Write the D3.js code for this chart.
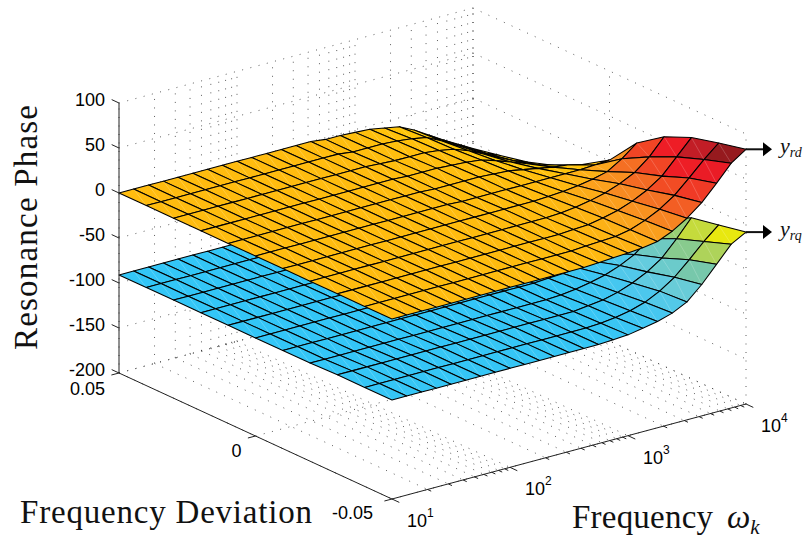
<!DOCTYPE html>
<html>
<head>
<meta charset="utf-8">
<script src="https://cdn.jsdelivr.net/npm/d3@7/dist/d3.min.js"></script>
<style>
  html, body { margin: 0; padding: 0; background: #fff; }
  svg { display: block; }
</style>
</head>
<body>
<svg id="chart" width="805" height="539"></svg>
<script>
// grid of the two surfaces: one row per deviation, one value per frequency
var freqGrid = [10, 13.3, 17.8, 23.7, 31.6, 42.2, 56.2, 75, 100, 133, 178, 237, 316, 422, 562, 750, 1000, 1334, 1778, 2371, 3162, 4217, 5623, 7499, 10000]
var devGrid = [-0.05, -0.04, -0.03, -0.02, -0.01, 0, 0.01, 0.02, 0.03, 0.04, 0.05]

var upperPhase = [
  [0, 0, 0, 0, 0, 0, 0, 0, 0, 0, 0, 0, 0, 0, 1, 2, 3, 4.5, 7, 14, 24, 37, 54, 72, 83],
  [0, 0, 0, 0, 0, 0, 0, 0, 0, 0, 0, 0, 0, 0, 0, 1, 2, 3, 6, 12, 20, 31, 46, 62, 76],
  [0, 0, 0, 0, 0, 0, 0, 0, 0, 0, 0, 0, 0, 0, 0, 0, 1, 2, 5, 9, 15, 23, 34, 51, 68],
  [0, 0, 0, 0, 0, 0, 0, 0, 0, 0, 0, 0, 0, 0, 0, 0, 0, 1, 3, 6, 10, 16, 24, 37, 55],
  [0, 0, 0, 0, 0, 0, 0, 0, 0, 0, 0, 0, 0, 0, 0, 0, 0, 0, 1, 2, 4, 7, 11, 21, 34],
  [0, 0, 0, 0, 0, 0, 0, 0, 0, 0, 0, 0, 0, 0, -1, -1, -1, -1, -1, -1, -1, -1, -1, 0, 1],
  [0, 0, 0, 0, 0, 0, 0, 0, 0, 0, 0, 0, 0, 0, -1, -1, -1, -1, -2, -3, -6, -9, -12, -14, -18],
  [0, 0, 0, 0, 0, 0, 0, 0, 0, 0, 0, 0, 0, 0, -1, -1, -1, -2, -3, -5, -10, -16, -22, -28, -33],
  [0, 0, 0, 0, 0, 0, 0, 0, 0, 0, 0, 0, 0, 0, -1, -2, -2, -2, -4, -7, -13, -21, -29, -37, -43],
  [0, 0, 0, 0, 0, 0, 0, 0, 0, 0, 0, 0, 0, 0, -2, -2, -2, -3, -5, -8, -16, -25, -34, -43, -50],
  [0, 0, 0, 0, 0, 0, 0, 0, 0, 0, 0, 0, 0, 0, -2, -2, -3, -4, -7, -10, -18, -28, -38, -47, -56]
]

var lowerPhase = [
  [-90, -90, -90, -90, -90, -90, -90, -90, -90, -90, -90, -90, -90, -90, -90, -89, -88, -85, -82, -77, -69, -54, -36, -18, -9],
  [-90, -90, -90, -90, -90, -90, -90, -90, -90, -90, -90, -90, -90, -90, -90, -90, -89, -87, -84, -79, -71, -60, -45, -29, -15],
  [-90, -90, -90, -90, -90, -90, -90, -90, -90, -90, -90, -90, -90, -90, -90, -90, -90, -88, -86, -82, -76, -68, -57, -40, -21],
  [-91, -91, -91, -91, -91, -91, -91, -91, -91, -91, -91, -91, -91, -91, -91, -91, -91, -90, -88, -85, -81, -75, -67, -54, -36],
  [-91, -91, -91, -91, -91, -91, -91, -91, -91, -91, -91, -91, -91, -91, -91, -91, -91, -91, -90, -89, -87, -84, -80, -70, -57],
  [-91, -91, -91, -91, -91, -91, -91, -91, -91, -91, -91, -91, -91, -91, -92, -92, -92, -92, -92, -92, -92, -92, -92, -91, -90],
  [-91, -91, -91, -91, -91, -91, -91, -91, -91, -91, -91, -91, -91, -91, -92, -92, -92, -92, -93, -94, -97, -100, -103, -105, -109],
  [-91, -91, -91, -91, -91, -91, -91, -91, -91, -91, -91, -91, -91, -91, -92, -92, -92, -93, -94, -96, -101, -107, -113, -119, -124],
  [-91, -91, -91, -91, -91, -91, -91, -91, -91, -91, -91, -91, -91, -91, -92, -93, -93, -93, -95, -98, -104, -112, -120, -128, -134],
  [-91, -91, -91, -91, -91, -91, -91, -91, -91, -91, -91, -91, -91, -91, -93, -93, -93, -94, -96, -99, -107, -116, -125, -134, -141],
  [-91, -91, -91, -91, -91, -91, -91, -91, -91, -91, -91, -91, -91, -91, -93, -93, -94, -95, -98, -101, -109, -119, -128, -138, -147]
]

var phaseTicks = [100, 50, 0, -50, -100, -150, -200]
var devTicks = [0.05, 0, -0.05]
var freqDecades = [10, 100, 1000, 10000]
var freqExponents = ['1', '2', '3', '4']

var upperStops = [-20, 0, 8, 14, 22, 33, 42, 48, 58, 62, 73]
var upperColors = ['#ffd400', '#ffbc0f', '#fba51c', '#f99220', '#f57323', '#f24d24', '#f03a26', '#ee1e26', '#ee1c26', '#cd1e28', '#961a1e']
var lowerStops = [-91, -78, -66, -56, -48, -40, -30, -18]
var lowerColors = ['#33c6f7', '#4ac7ee', '#66ccdd', '#6ccbc8', '#78c8a8', '#90cc80', '#b5d550', '#e8e80f']

var serif = '"Liberation Serif", serif'
var sans = '"Liberation Sans", Arial, sans-serif'

var svg = d3.select('#chart')

// axes box on screen
var origin = {x: 119, y: 373}   // freq 10, dev 0.05, phase -200
var freqSpan = {x: 354, y: -95}
var devSpan = {x: 273, y: 126}

var freqScale = d3.scaleLog().domain([10, 10000]).range([0, 1])
var devScale = d3.scaleLinear().domain([0.05, -0.05]).range([0, 1])
var phaseScale = d3.scaleLinear().domain([-200, 100]).range([0, 270])

function project (f, d, z) {
  var a = freqScale(f)
  var b = devScale(d)
  return [
    origin.x + a * freqSpan.x + b * devSpan.x,
    origin.y + a * freqSpan.y + b * devSpan.y - phaseScale(z)
  ]
}

var lineGen = d3.line()

function segment (layer, from, to) {
  return layer.append('path').attr('d', lineGen([from, to])).attr('fill', 'none')
}

// dotted grid on the floor and the two back walls
var grid = svg.append('g')
  .attr('stroke', '#333')
  .attr('stroke-width', 0.8)
  .attr('stroke-dasharray', '1 7.5')

freqScale.ticks().forEach(function (f) {
  segment(grid, project(f, 0.05, -200), project(f, -0.05, -200))
  segment(grid, project(f, 0.05, -200), project(f, 0.05, 100))
})
devTicks.forEach(function (d) {
  segment(grid, project(10, d, -200), project(10000, d, -200))
  segment(grid, project(10000, d, -200), project(10000, d, 100))
})
phaseTicks.forEach(function (z) {
  segment(grid, project(10, 0.05, z), project(10000, 0.05, z))
  segment(grid, project(10000, 0.05, z), project(10000, -0.05, z))
})

// painter's order: far cells first, each one a fill, a faint seam and an outline
function drawSurface (rows, color) {
  var layer = svg.append('g')
  for (var j = devGrid.length - 2; j >= 0; j--) {
    for (var i = freqGrid.length - 2; i >= 0; i--) {
      var p00 = project(freqGrid[i], devGrid[j], rows[j][i])
      var p10 = project(freqGrid[i + 1], devGrid[j], rows[j][i + 1])
      var p11 = project(freqGrid[i + 1], devGrid[j + 1], rows[j + 1][i + 1])
      var p01 = project(freqGrid[i], devGrid[j + 1], rows[j + 1][i])
      var fill = color(d3.mean([rows[j][i], rows[j][i + 1], rows[j + 1][i + 1], rows[j + 1][i]]))
      layer.append('path').attr('d', lineGen([p00, p10, p11, p01]) + 'Z').attr('fill', fill)
      layer.append('path')
        .attr('d', lineGen([p00, p11]))
        .attr('stroke', '#fff')
        .attr('stroke-opacity', 0.28)
        .attr('stroke-width', 0.7)
      layer.append('path')
        .attr('d', lineGen([p00, p10, p11, p01]) + 'Z')
        .attr('fill', 'none')
        .attr('stroke', '#000')
        .attr('stroke-width', 1.05)
        .attr('stroke-linejoin', 'round')
    }
  }
}

drawSurface(lowerPhase, d3.scaleLinear().domain(lowerStops).range(lowerColors).clamp(true))
drawSurface(upperPhase, d3.scaleLinear().domain(upperStops).range(upperColors).clamp(true))

// solid axes and ticks
var axes = svg.append('g').attr('stroke', '#222').attr('stroke-width', 1)
var tickLong = {x: 7.3, y: 3.4}
var tickAlong = {x: 7.6, y: -2}

segment(axes, project(10, 0.05, -200), project(10, 0.05, 100))
segment(axes, project(10, 0.05, -200), project(10, -0.05, -200))
segment(axes, project(10, -0.05, -200), project(10000, -0.05, -200))

phaseTicks.forEach(function (z) {
  var p = project(10, 0.05, z)
  segment(axes, [p[0] - tickLong.x, p[1] - tickLong.y], p)
})
devTicks.forEach(function (d) {
  var p = project(10, d, -200)
  segment(axes, [p[0] - tickAlong.x, p[1] - tickAlong.y], p)
})
freqScale.ticks().forEach(function (f) {
  var p = project(f, -0.05, -200)
  var k = freqDecades.indexOf(f) >= 0 ? 1 : 0.5
  segment(axes, p, [p[0] + k * tickLong.x, p[1] + k * tickLong.y])
})

// tick labels
var labels = svg.append('g')
  .attr('font-family', sans)
  .attr('font-size', 18)
  .attr('fill', '#000')

labels.selectAll('text.phase')
  .data(phaseTicks)
  .enter().append('text')
  .attr('class', 'phase')
  .attr('x', 105)
  .attr('y', function (z) { return project(10, 0.05, z)[1] + 2.5 })
  .attr('text-anchor', 'end')
  .text(function (z) { return z })

labels.append('text').attr('x', 105).attr('y', 395).attr('text-anchor', 'end').text('0.05')
labels.append('text').attr('x', 236.5).attr('y', 457).attr('text-anchor', 'middle').text('0')
labels.append('text').attr('x', 373).attr('y', 519).attr('text-anchor', 'end').text('-0.05')

freqDecades.forEach(function (f, n) {
  var p = project(f, -0.05, -200)
  var t = labels.append('text').attr('x', p[0] + 15).attr('y', p[1] + 28)
  t.append('tspan').text('10')
  t.append('tspan').attr('dy', -10).attr('font-size', 12).text(freqExponents[n])
})

// axis titles
var titles = svg.append('g')
  .attr('font-family', serif)
  .attr('font-size', 33)
  .attr('fill', '#111')

titles.append('text')
  .attr('transform', 'translate(37,350) rotate(-90)')
  .attr('textLength', 245)
  .text('Resonance Phase')
titles.append('text')
  .attr('x', 20)
  .attr('y', 523)
  .attr('textLength', 292)
  .text('Frequency Deviation')

titles.append('text').attr('x', 572).attr('y', 528).attr('textLength', 141).text('Frequency')
var omega = titles.append('text').attr('x', 727).attr('y', 528).attr('font-style', 'italic')
omega.append('tspan').text('\u03c9')
omega.append('tspan').attr('font-size', 21).attr('dy', 6).text('k')

// output arrows
var arrows = [
  {from: project(10000, -0.05, upperPhase[0][24]), main: 'y', sub: 'rd'},
  {from: project(10000, -0.05, lowerPhase[0][24]), main: 'y', sub: 'rq'}
]
arrows.forEach(function (a) {
  var x0 = a.from[0]
  var y0 = a.from[1]
  svg.append('path')
    .attr('d', lineGen([[x0, y0], [x0 + 18, y0]]))
    .attr('stroke', '#111')
    .attr('stroke-width', 2)
  svg.append('path')
    .attr('d', lineGen([[x0 + 17, y0 - 7], [x0 + 26, y0], [x0 + 17, y0 + 7]]) + 'Z')
    .attr('fill', '#000')
  var t = svg.append('text')
    .attr('x', x0 + 34)
    .attr('y', y0 + 4)
    .attr('font-family', serif)
    .attr('font-style', 'italic')
    .attr('font-size', 22)
    .attr('fill', '#111')
  t.append('tspan').text(a.main)
  t.append('tspan').attr('dy', 4).attr('font-size', 14).text(a.sub)
})
</script>
</body>
</html>
